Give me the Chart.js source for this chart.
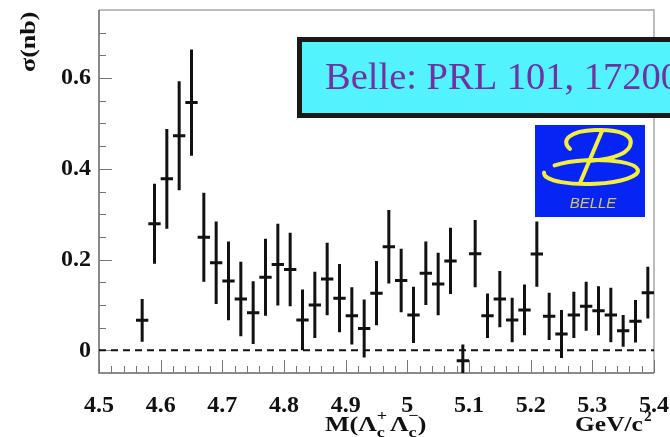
<!DOCTYPE html>
<html>
<head>
<meta charset="utf-8">
<script src="https://cdn.jsdelivr.net/npm/chart.js@4/dist/chart.umd.min.js"></script>
<style>
  html, body { margin: 0; padding: 0; background: #fff; }
  #wrap { width: 670px; height: 437px; }
</style>
</head>
<body>
<div id="wrap"><canvas id="xsecChart" width="670" height="437"></canvas></div>
<script>
// Lambda_c+ Lambda_c- cross section (Belle)

// bin centres, GeV/c^2
const massBins = [
    4.57, 4.59, 4.61, 4.63, 4.65, 4.67, 4.69, 4.71, 4.73, 4.75,
    4.77, 4.79, 4.81, 4.83, 4.85, 4.87, 4.89, 4.91, 4.93, 4.95,
    4.97, 4.99, 5.01, 5.03, 5.05, 5.07, 5.09, 5.11, 5.13, 5.15,
    5.17, 5.19, 5.21, 5.23, 5.25, 5.27, 5.29, 5.31, 5.33, 5.35,
    5.37, 5.39
];
// sigma in nb
const crossSection = [
    0.066, 0.279, 0.378, 0.473, 0.546, 0.249, 0.193, 0.153, 0.113, 0.083,
    0.161, 0.189, 0.178, 0.067, 0.100, 0.157, 0.115, 0.076, 0.048, 0.126,
    0.228, 0.154, 0.078, 0.170, 0.146, 0.197, -0.023, 0.213, 0.076, 0.113,
    0.067, 0.089, 0.212, 0.075, 0.036, 0.078, 0.097, 0.087, 0.078, 0.043,
    0.064, 0.127
];
const crossSectionErr = [
    0.047, 0.088, 0.110, 0.120, 0.117, 0.098, 0.091, 0.087, 0.082, 0.069,
    0.085, 0.090, 0.081, 0.067, 0.073, 0.080, 0.075, 0.063, 0.064, 0.071,
    0.081, 0.070, 0.062, 0.070, 0.069, 0.073, 0.036, 0.074, 0.049, 0.062,
    0.049, 0.056, 0.072, 0.052, 0.053, 0.051, 0.054, 0.054, 0.060, 0.035,
    0.047, 0.057
];
const binHalfWidth = 0.01;

// axis ticks
const xTickValues = [4.5, 4.6, 4.7, 4.8, 4.9, 5.0, 5.1, 5.2, 5.3, 5.4];
const xMinorStep = 0.02;
const yTickValues = [0, 0.2, 0.4, 0.6];
const yMinorStep = 0.05;
const xRange = [4.5, 5.4];
const yRange = [-0.05, 0.75];

const serif = "'Liberation Serif', 'DejaVu Serif', serif";

function fmt(v) {
    return String(+v.toFixed(2));
}

// Error bars (vertical stat error, horizontal bin width)
const errorBarsPlugin = {
    id: 'errorBars',
    afterDatasetsDraw(chart) {
        const { ctx, chartArea, scales } = chart;
        const xs = scales.x, ys = scales.y;
        ctx.save();
        ctx.beginPath();
        ctx.rect(chartArea.left, chartArea.top, chartArea.right - chartArea.left, chartArea.bottom - chartArea.top);
        ctx.clip();
        ctx.strokeStyle = '#111';
        ctx.lineWidth = 3;
        massBins.forEach((m, i) => {
            const v = crossSection[i];
            const e = crossSectionErr[i];
            const px = xs.getPixelForValue(m);
            const py = ys.getPixelForValue(v);
            ctx.beginPath();
            ctx.moveTo(px, ys.getPixelForValue(v + e));
            ctx.lineTo(px, ys.getPixelForValue(v - e));
            ctx.moveTo(xs.getPixelForValue(m - binHalfWidth), py);
            ctx.lineTo(xs.getPixelForValue(m + binHalfWidth), py);
            ctx.stroke();
        });
        ctx.restore();
    }
};

// stretched text helper (the reference fonts are wide)
function wideText(ctx, txt, x, y, font, sx) {
    ctx.save();
    ctx.font = font;
    ctx.translate(x, y);
    ctx.scale(sx, 1);
    ctx.fillText(txt, 0, 0);
    const w = ctx.measureText(txt).width * sx;
    ctx.restore();
    return w;
}

// Frame, inward ticks, zero line, axis titles
const framePlugin = {
    id: 'frame',
    beforeDatasetsDraw(chart) {
        const { ctx, chartArea, scales } = chart;
        const { left, right, top, bottom } = chartArea;
        const xs = scales.x, ys = scales.y;
        ctx.save();

        // top / right frame
        ctx.strokeStyle = '#a8a8a8';
        ctx.lineWidth = 1.5;
        ctx.beginPath();
        ctx.moveTo(left, top);
        ctx.lineTo(right, top);
        ctx.lineTo(right, bottom);
        ctx.stroke();

        // axes
        ctx.strokeStyle = '#666';
        ctx.lineWidth = 1.5;
        ctx.beginPath();
        ctx.moveTo(left, top);
        ctx.lineTo(left, bottom);
        ctx.lineTo(right, bottom);
        ctx.stroke();

        // x ticks
        ctx.lineWidth = 1;
        ctx.strokeStyle = '#777';
        ctx.beginPath();
        const nx = Math.round((xRange[1] - xRange[0]) / xMinorStep);
        for (let k = 1; k < nx; k++) {
            const v = xRange[0] + k * xMinorStep;
            const px = Math.round(xs.getPixelForValue(v)) + 0.5;
            ctx.moveTo(px, bottom);
            ctx.lineTo(px, bottom - 7);
        }
        xTickValues.forEach(t => {
            const px = Math.round(xs.getPixelForValue(t)) + 0.5;
            ctx.moveTo(px, bottom);
            ctx.lineTo(px, bottom - 13);
        });
        // y ticks
        const ny = Math.round((yRange[1] - yRange[0]) / yMinorStep);
        for (let k = 1; k < ny; k++) {
            const v = yRange[0] + k * yMinorStep;
            const major = yTickValues.some(t => Math.abs(t - v) < 1e-6);
            const py = Math.round(ys.getPixelForValue(v)) + 0.5;
            ctx.moveTo(left, py);
            ctx.lineTo(left + (major ? 13 : 7), py);
        }
        ctx.stroke();

        // dashed zero line
        ctx.strokeStyle = '#111';
        ctx.lineWidth = 2;
        ctx.setLineDash([7, 5]);
        const y0 = ys.getPixelForValue(0);
        ctx.beginPath();
        ctx.moveTo(left, y0);
        ctx.lineTo(right, y0);
        ctx.stroke();
        ctx.setLineDash([]);
        ctx.restore();
    },
    afterDraw(chart) {
        const { ctx } = chart;
        ctx.save();
        ctx.fillStyle = '#111';
        ctx.textAlign = 'left';
        ctx.textBaseline = 'alphabetic';
        const big = `bold 20px ${serif}`;
        const small = `bold 14px ${serif}`;
        const sx = 1.3;

        // y title, rotated, ending at the top
        ctx.save();
        ctx.translate(35, 72);
        ctx.rotate(-Math.PI / 2);
        wideText(ctx, 'σ(nb)', 0, 0, big, sx);
        ctx.restore();

        // x title: M(Λc+ Λc−)
        const base = 431;
        let x = 325;
        x += wideText(ctx, 'M(Λ', x, base, big, sx);
        wideText(ctx, '+', x, base - 11, small, sx);
        x += wideText(ctx, 'c', x, base + 6, small, sx) + 5;
        x += wideText(ctx, 'Λ', x, base, big, sx);
        wideText(ctx, '−', x, base - 11, small, sx);
        x += wideText(ctx, 'c', x, base + 6, small, sx) + 1;
        wideText(ctx, ')', x, base, big, sx);

        // GeV/c^2
        x = 575;
        x += wideText(ctx, 'GeV/c', x, base, big, sx * 0.98);
        wideText(ctx, '2', x + 1, base - 10, small, 1.1);

        // reference box
        ctx.fillStyle = '#52f2fe';
        ctx.fillRect(297, 37, 380, 81);
        ctx.strokeStyle = '#1a1a1a';
        ctx.lineWidth = 5;
        ctx.strokeRect(299.5, 39.5, 380, 76);
        ctx.fillStyle = '#7131a0';
        ctx.font = `38.5px ${serif}`;
        ctx.fillText('Belle: PRL 101, 172001', 325, 89);

        // Belle logo
        ctx.fillStyle = '#0625f5';
        ctx.fillRect(535, 125, 110, 92);
        ctx.strokeStyle = '#f4ef3c';
        ctx.lineWidth = 4;
        ctx.lineCap = 'round';
        // lower ring
        ctx.beginPath();
        ctx.ellipse(591, 172, 47, 12, -0.03, Math.PI * 1.22, Math.PI * 3.02);
        ctx.stroke();
        // upper bowl
        ctx.beginPath();
        ctx.moveTo(570, 149);
        ctx.bezierCurveTo(560, 140, 570, 131, 595, 130);
        ctx.bezierCurveTo(622, 129, 634, 136, 630, 146);
        ctx.bezierCurveTo(626, 156, 605, 160, 588, 161);
        ctx.stroke();
        // stem
        ctx.beginPath();
        ctx.moveTo(602, 131);
        ctx.lineTo(580, 183);
        ctx.stroke();
        ctx.fillStyle = '#d2c957';
        ctx.font = `italic 15px 'Liberation Sans', sans-serif`;
        ctx.textAlign = 'center';
        ctx.fillText('BELLE', 593, 208);
        ctx.restore();
    }
};

function initChart() {
    const canvas = document.getElementById('xsecChart');
    const ctx = canvas.getContext('2d');
    return new Chart(ctx, {
        type: 'scatter',
        data: {
            datasets: [{
                label: 'sigma',
                data: massBins.map((m, i) => ({ x: m, y: crossSection[i] })),
                pointRadius: 0,
                showLine: false
            }]
        },
        plugins: [framePlugin, errorBarsPlugin],
        options: {
            responsive: false,
            animation: false,
            layout: { padding: { top: 10, right: 16, left: 0, bottom: 0 } },
            plugins: {
                legend: { display: false },
                tooltip: { enabled: false }
            },
            scales: {
                x: {
                    type: 'linear',
                    min: xRange[0],
                    max: xRange[1],
                    afterFit: (s) => {
                        s.height = 64;
                        s.paddingLeft = 0;
                        s.paddingRight = 0;
                    },
                    afterBuildTicks: (s) => { s.ticks = xTickValues.map(v => ({ value: v })); },
                    border: { display: false },
                    grid: { display: false, drawTicks: false },
                    ticks: {
                        padding: 18,
                        maxRotation: 0,
                        autoSkip: false,
                        color: '#111',
                        font: { family: serif, size: 24, weight: 'bold' },
                        callback: (v) => fmt(v)
                    }
                },
                y: {
                    type: 'linear',
                    min: yRange[0],
                    max: yRange[1],
                    afterFit: (s) => {
                        s.width = 99;
                        s.paddingTop = 0;
                        s.paddingBottom = 0;
                    },
                    afterBuildTicks: (s) => { s.ticks = yTickValues.map(v => ({ value: v })); },
                    border: { display: false },
                    grid: { display: false, drawTicks: false },
                    ticks: {
                        padding: 8,
                        autoSkip: false,
                        color: '#111',
                        font: { family: serif, size: 24, weight: 'bold' },
                        callback: (v) => fmt(v)
                    }
                }
            }
        }
    });
}

document.addEventListener('DOMContentLoaded', () => {
    initChart();
});
</script>
</body>
</html>
